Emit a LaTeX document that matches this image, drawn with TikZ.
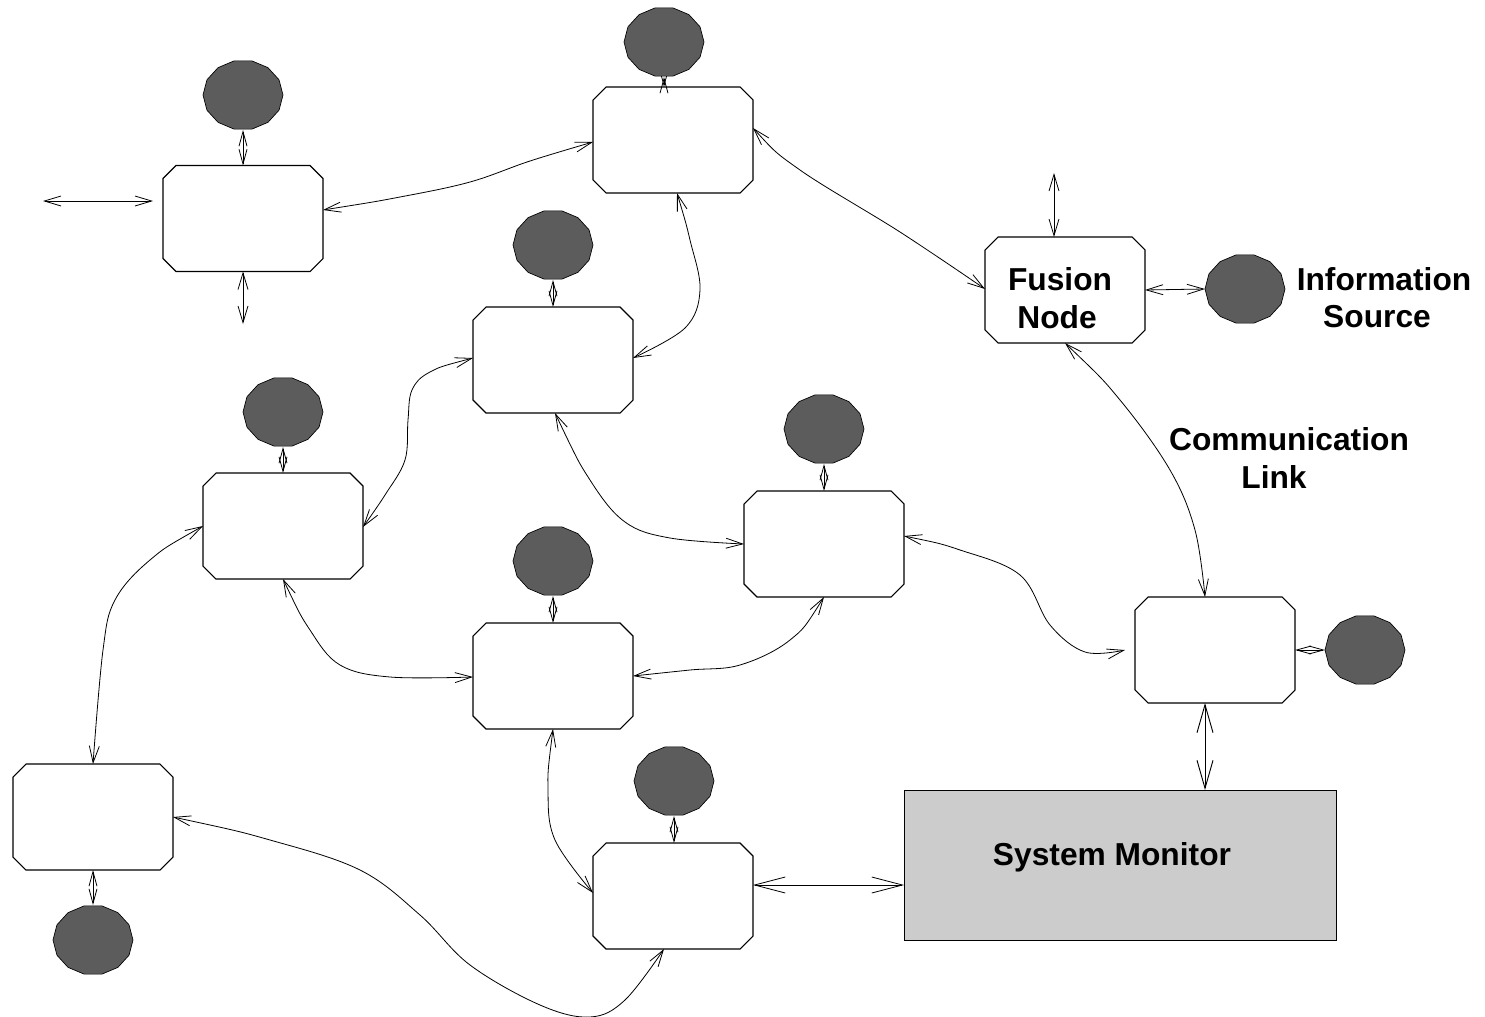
\documentclass[tikz,border=0pt]{standalone}
\usepackage{fontspec}
\setmainfont{Liberation Sans}
\usetikzlibrary{arrows.meta,shapes.geometric,calc}
\tikzset{
  x=0.75pt,y=-0.75pt,
  procbox/.style={rectangle,minimum width=120pt,minimum height=79.5pt,inner sep=0pt,outer sep=0pt},
  srcnode/.style={ellipse,minimum width=60pt,minimum height=52.5pt,inner sep=0pt,outer sep=0pt},
  monitor/.style={rectangle,draw=black,line width=0.6pt,fill=monitorgray,minimum width=324pt,minimum height=112.5pt,inner sep=0pt,outer sep=0pt},
  link/.style={draw=black,line width=0.6pt,{Straight Barb[length=12.5pt,width=7.5pt,line width=0.6pt]}-{Straight Barb[length=12.5pt,width=7.5pt,line width=0.6pt]}},
  srclink/.style={draw=black,line width=0.6pt,{Straight Barb[length=11pt,width=6pt,line width=0.6pt]}-{Straight Barb[length=11pt,width=6pt,line width=0.6pt]}},
  bigtip/.style={draw=black,line width=0.7pt,{Straight Barb[length=21pt,width=12pt,line width=0.7pt]}-{Straight Barb[length=21pt,width=12pt,line width=0.7pt]}},
  widelink/.style={draw=black,line width=0.6pt,{Straight Barb[length=23pt,width=12pt,line width=0.6pt]}-{Straight Barb[length=23pt,width=12pt,line width=0.6pt]}},
  label/.style={font=\fontsize{23.8}{28.5}\selectfont\bfseries,align=center,inner sep=0pt}
}
\definecolor{monitorgray}{gray}{0.8}
\definecolor{srcgray}{gray}{0.36}
\newcommand{\pbox}[3]{%
  \node[procbox] (#1) at (#2,#3) {};
  \draw[line width=0.8pt,fill=white] ($(#2,#3)+(-67,-53)$) -- ($(#2,#3)+(67,-53)$) -- ($(#2,#3)+(80,-40)$) -- ($(#2,#3)+(80,40)$) -- ($(#2,#3)+(67,53)$) -- ($(#2,#3)+(-67,53)$) -- ($(#2,#3)+(-80,40)$) -- ($(#2,#3)+(-80,-40)$) -- cycle;}
\newcommand{\psrc}[3]{%
  \node[srcnode] (#1) at (#2,#3) {};}
\newcommand{\psrcdraw}[2]{%
  \draw[line width=0.5pt,fill=srcgray] plot[samples at={0,25.7,51.4,77.1,102.8,128.5,154.2,180,205.7,231.4,257.1,282.8,308.5,334.2}] ({#1+40*cos(\x)},{#2+35*sin(\x)}) -- cycle;}
\begin{document}
\begin{tikzpicture}
\useasboundingbox (0,0) rectangle (1485,1017);
\pbox{nA}{243}{218.5}
\pbox{nB}{673}{140}
\pbox{nC}{1065}{290}
\pbox{nD}{553}{360}
\pbox{nE}{283}{526}
\pbox{nF}{824}{544}
\pbox{nG}{553}{676}
\pbox{nH}{1215}{650}
\pbox{nI}{93}{817}
\pbox{nJ}{673}{896}
\node[monitor] (mon) at (1120,865) {};
\psrc{sA}{243}{95}
\psrc{sB}{664}{42}
\psrc{sC}{1245}{289}
\psrc{sD}{553}{245}
\psrc{sE}{283}{412}
\psrc{sF}{824}{429}
\psrc{sG}{553}{561}
\psrc{sH}{1365}{650}
\psrc{sI}{93}{940}
\psrc{sJ}{674}{781}
\coordinate (freeL1) at (43,201);
\coordinate (freeL2) at (153,201);
\coordinate (freeB) at (243,324);
\coordinate (freeT) at (1054,173);
\draw[link] (freeL1) -- (freeL2);
\draw[srclink] (sA.south) -- (nA.north);
\draw[link] (nA.south) -- (freeB);
\draw[srclink] (sB.south) -- (sB.south |- nB.north);
\draw[srclink] (sD.south) -- (nD.north);
\draw[srclink] (sE.south) -- (nE.north);
\draw[srclink] (sF.south) -- (nF.north);
\draw[srclink] (sG.south) -- (nG.north);
\draw[srclink] (nH.east) -- (sH.west);
\draw[srclink] (nI.south) -- (sI.north);
\draw[srclink] (sJ.south) -- (sJ.south |- nJ.north);
\draw[link] (freeT) -- (freeT |- nC.north);
\draw[link] (nC.east) -- (sC.west);
\draw[bigtip] (nH.south -| 1205,0) -- (mon.north -| 1205,0);
\draw[widelink] (nJ.east |- 0,885) -- (mon.west |- 0,885);
\draw[link] plot[smooth,tension=0.6] coordinates {(323,210) (400,197) (470,182) (530,161) (593,142)};
\draw[link] plot[smooth,tension=0.6] coordinates {(753,128) (800,170) (900,232) (985,289)};
\draw[link] plot[smooth,tension=0.6] coordinates {(677,193) (690,240) (700,290) (685,328) (633,358)};
\draw[link] plot[smooth,tension=0.6] coordinates {(473,358) (430,372) (412,390) (408,420) (405,460) (385,495) (363,527)};
\draw[link] plot[smooth,tension=0.6] coordinates {(555,413) (590,480) (625,522) (670,538) (744,544)};
\draw[link] plot[smooth,tension=0.6] coordinates {(283,579) (310,630) (340,665) (390,677) (473,677)};
\draw[link] plot[smooth,tension=0.6] coordinates {(203,526) (150,560) (115,600) (103,650) (93,764)};
\draw[link] plot[smooth,tension=0.6] coordinates {(824,597) (790,640) (740,665) (690,670) (633,676)};
\draw[link] plot[smooth,tension=0.6] coordinates {(904,536) (960,550) (1020,575) (1050,625) (1085,652) (1125,650)};
\draw[link] plot[smooth,tension=0.6] coordinates {(1065,343) (1120,400) (1170,470) (1195,530) (1205,597)};
\draw[link] plot[smooth,tension=0.6] coordinates {(553,729) (548,790) (555,840) (593,893)};
\draw[link] plot[smooth,tension=0.6] coordinates {(173,817) (270,840) (360,870) (420,915) (470,965) (540,1005) (590,1017) (625,1000) (664,949)};
\psrcdraw{243}{95}
\psrcdraw{664}{42}
\psrcdraw{1245}{289}
\psrcdraw{553}{245}
\psrcdraw{283}{412}
\psrcdraw{824}{429}
\psrcdraw{553}{561}
\psrcdraw{1365}{650}
\psrcdraw{93}{940}
\psrcdraw{674}{781}
\node[label] (tFusionA) at (1060,279) {Fusion};
\node[label] (tFusionB) at (1057,317) {Node};
\node[label] (tInfoA) at (1384,279) {Information};
\node[label] (tInfoB) at (1377,317) {Source};
\node[label] (tCommA) at (1289,439) {Communication};
\node[label] (tCommB) at (1274,477) {Link};
\node[label] (tMon) at (1112,857) {System Monitor};
\end{tikzpicture}
\end{document}
